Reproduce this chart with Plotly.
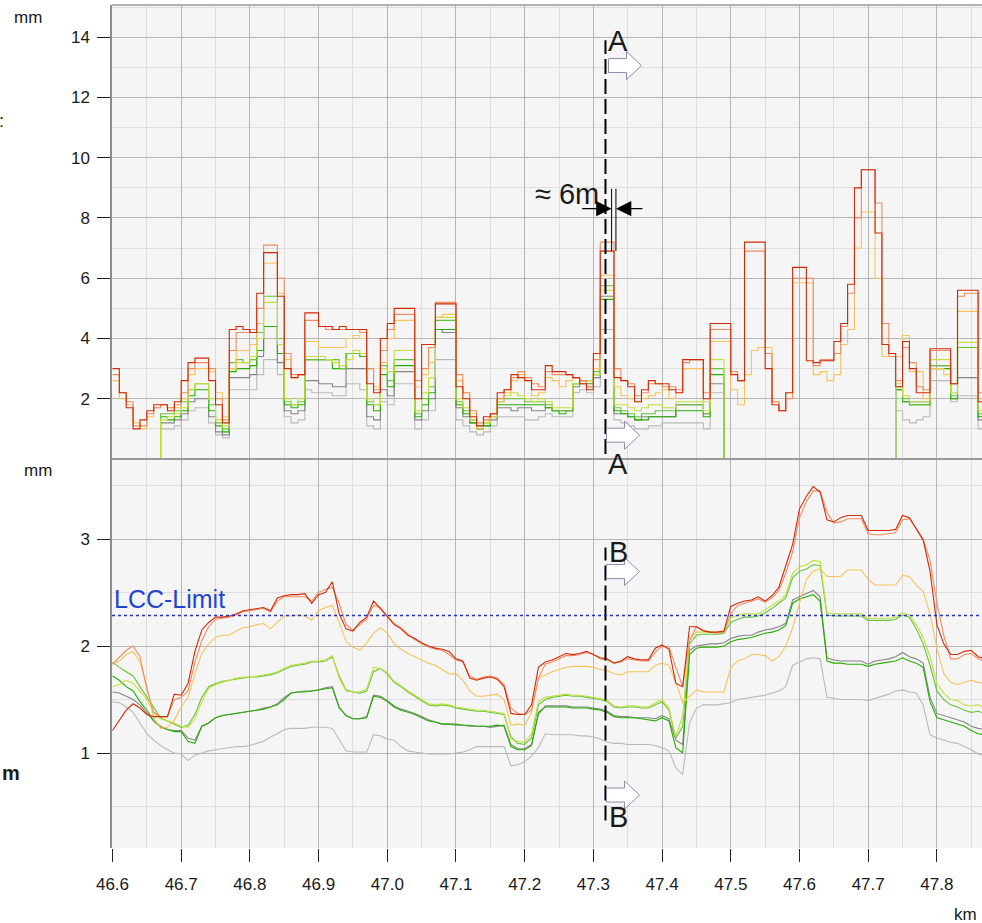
import plotly.graph_objects as go
from plotly.subplots import make_subplots

# ---------------- data ----------------
KM = [round(46.60 + 0.01 * i, 2) for i in range(128)]
X_TICKS = [46.6, 46.7, 46.8, 46.9, 47.0, 47.1, 47.2, 47.3, 47.4, 47.5, 47.6, 47.7, 47.8]
TOP_TICKS = [2, 4, 6, 8, 10, 12, 14]
BOT_TICKS = [1, 2, 3]
LCC_LIMIT = 2.285
SECTION_KM = 47.3176

TOP_RED = [3.0, 2.2, 1.7, 1.0, 1.3, 1.6, 1.8, 1.8, 1.6, 1.9,
           2.6, 3.2, 3.35, 3.35, 2.6, 1.8, 1.2, 4.3, 4.4, 4.3,
           4.2, 5.5, 6.85, 6.85, 5.4, 3.0, 2.7, 2.8, 4.85, 4.85,
           4.4, 4.4, 4.3, 4.4, 4.3, 4.3, 4.3, 2.5, 2.2, 4.0,
           4.5, 5.0, 5.0, 5.0, 2.0, 3.8, 3.8, 5.15, 5.15, 5.15,
           2.4, 2.0, 1.4, 1.1, 1.4, 1.5, 2.2, 2.3, 2.8, 2.7,
           2.6, 2.3, 2.3, 3.1, 2.9, 2.9, 2.8, 2.7, 2.5, 2.3,
           3.5, 6.9, 6.9, 2.7, 2.6, 2.4, 1.9, 2.3, 2.6, 2.5,
           2.5, 2.3, 2.2, 3.3, 3.3, 3.3, 2.0, 4.5, 4.5, 4.5,
           2.8, 2.6, 7.2, 7.2, 7.2, 3.0, 1.8, 1.6, 2.2, 6.36,
           6.36, 3.26, 3.2, 3.26, 3.26, 3.9, 4.5, 5.8, 9.0, 9.6,
           9.6, 7.5, 3.8, 3.5, 2.4, 3.9, 3.0, 2.2, 2.2, 3.66,
           3.66, 3.66, 2.5, 5.6, 5.6, 5.6, 1.9, 2.0]
TOP_SALMON = [2.8, 2.2, 1.9, 1.1, 1.1, 1.5, 1.7, 1.8, 1.7, 1.8,
              2.2, 3.0, 3.2, 3.2, 3.0, 2.0, 1.3, 3.6, 4.2, 4.2,
              4.3, 5.0, 7.1, 7.1, 6.0, 3.5, 2.8, 2.8, 4.6, 4.6,
              4.4, 4.3, 4.3, 4.3, 4.3, 4.3, 4.2, 3.0, 2.3, 3.6,
              4.3, 4.8, 4.8, 4.8, 2.6, 3.0, 3.7, 5.2, 5.2, 5.2,
              2.8, 2.2, 1.6, 1.2, 1.3, 1.5, 2.0, 2.3, 2.7, 2.9,
              2.7, 2.5, 2.4, 2.9, 2.8, 2.8, 2.8, 2.7, 2.6, 2.4,
              3.3, 7.2, 7.2, 3.0, 2.6, 2.5, 2.1, 2.2, 2.5, 2.5,
              2.4, 2.4, 2.3, 3.2, 3.3, 3.3, 2.2, 4.3, 4.3, 4.3,
              2.9, 2.6, 6.9, 6.9, 6.9, 3.5, 1.9, 1.6, 2.0, 6.0,
              6.0, 6.0, 3.1, 3.3, 3.3, 3.5, 4.4, 5.5, 8.0, 9.6,
              9.6, 8.5, 4.5, 3.4, 2.6, 3.7, 3.2, 2.4, 2.3, 3.6,
              3.6, 3.6, 2.5, 5.4, 5.5, 5.5, 2.2, 2.0]
TOP_ORANGE = [2.6, 2.0, 1.8, 1.2, 1.0, 1.4, 1.7, 1.8, 1.7, 1.7,
              2.0, 2.8, 3.0, 3.0, 2.9, 2.2, 1.4, 3.0, 3.6, 3.6,
              3.8, 4.5, 6.5, 6.5, 5.5, 3.3, 2.7, 2.8, 3.9, 3.9,
              3.7, 3.7, 3.7, 3.7, 4.0, 4.1, 4.0, 3.0, 2.4, 3.2,
              4.0, 4.6, 4.6, 4.6, 2.4, 2.8, 3.2, 4.7, 4.8, 4.8,
              2.6, 2.2, 1.5, 1.0, 1.3, 1.4, 1.9, 2.2, 2.6, 2.8,
              2.6, 2.1, 2.2, 2.7, 2.6, 2.4, 2.6, 2.7, 2.6, 2.4,
              3.0, 6.1, 6.1, 2.4, 2.1, 2.0, 1.9, 2.0, 2.1, 2.2,
              2.3, 2.0, 2.2, 3.0, 3.0, 3.0, 1.9, 3.9, 3.9, 3.9,
              2.3, 1.8, 2.8, 3.6, 3.7, 3.7, 1.9, 1.6, 2.2, 5.85,
              5.85, 5.85, 2.8, 2.9, 2.6, 2.8, 3.8, 4.3, 7.0, 8.2,
              8.2, 6.0, 3.4, 3.4, 3.4, 4.1, 2.9, 2.9, 2.0, 3.0,
              3.0, 2.8, 2.5, 4.9, 4.9, 4.9, 2.0, 2.0]
TOP_YGREEN = [0, 0, 0, 0, 0, 0, 0, 1.3, 1.4, 1.5,
              1.7, 2.3, 2.5, 2.5, 2.0, 1.3, 1.1, 3.0, 3.2, 3.2,
              3.4, 4.0, 5.2, 5.2, 3.8, 2.0, 1.8, 2.0, 3.4, 3.4,
              3.4, 3.3, 3.2, 3.1, 3.3, 3.6, 3.5, 2.0, 1.8, 3.0,
              2.9, 3.6, 3.6, 3.6, 1.6, 2.2, 2.7, 4.7, 4.7, 4.7,
              2.0, 1.7, 1.3, 1.1, 1.2, 1.5, 2.0, 2.1, 2.2, 2.1,
              2.0, 1.9, 2.0, 1.9, 1.7, 1.7, 1.7, 2.5, 2.6, 2.6,
              2.8, 5.6, 5.6, 1.8, 1.8, 1.7, 1.6, 1.7, 1.8, 1.8,
              1.7, 1.7, 1.9, 1.9, 1.9, 1.9, 1.6, 3.3, 3.3, 0,
              0, 0, 0, 0, 0, 0, 0, 0, 0, 0,
              0, 0, 0, 0, 0, 0, 0, 0, 0, 0,
              0, 0, 0, 0, 2.5, 2.1, 1.9, 1.9, 1.9, 3.3,
              3.3, 3.3, 2.2, 3.87, 3.87, 3.87, 1.6, 1.5]
TOP_LGREEN = [0, 0, 0, 0, 0, 0, 0, 1.5, 1.5, 1.6,
              1.9, 2.3, 2.5, 2.5, 1.8, 1.2, 1.0, 3.2, 3.3, 3.2,
              3.3, 4.2, 5.4, 5.4, 4.0, 1.9, 1.8, 1.9, 3.3, 3.3,
              3.3, 3.3, 3.3, 3.0, 3.5, 3.5, 3.5, 1.9, 1.8, 3.1,
              2.6, 3.3, 3.3, 3.3, 1.5, 2.0, 2.4, 4.6, 4.6, 4.6,
              1.9, 1.6, 1.3, 1.1, 1.2, 1.5, 1.9, 2.0, 2.0, 2.0,
              1.9, 1.9, 1.9, 1.8, 1.6, 1.6, 1.6, 2.5, 2.6, 2.6,
              2.9, 5.75, 5.75, 1.7, 1.6, 1.5, 1.4, 1.5, 1.5, 1.6,
              1.6, 1.6, 1.8, 1.8, 1.8, 1.8, 1.5, 3.0, 3.0, 0,
              0, 0, 0, 0, 0, 0, 0, 0, 0, 0,
              0, 0, 0, 0, 0, 0, 0, 0, 0, 0,
              0, 0, 0, 0, 2.4, 2.0, 1.8, 1.8, 1.8, 3.1,
              3.1, 3.1, 2.1, 3.7, 3.7, 3.7, 1.5, 1.4]
TOP_GREEN = [0, 0, 0, 0, 0, 0, 0, 1.4, 1.3, 1.4,
             1.6, 2.1, 2.3, 2.3, 1.6, 1.1, 0.9, 2.9, 3.0, 3.0,
             3.1, 3.6, 4.4, 4.4, 3.5, 1.8, 1.7, 1.8, 3.3, 3.3,
             3.3, 3.3, 3.0, 3.0, 3.5, 3.5, 3.4, 1.8, 1.6, 2.8,
             2.4, 3.1, 3.1, 3.1, 1.4, 1.8, 2.2, 4.3, 4.3, 4.3,
             1.8, 1.5, 1.2, 1.0, 1.1, 1.4, 1.8, 1.8, 1.8, 1.8,
             1.8, 1.8, 1.8, 1.7, 1.6, 1.5, 1.6, 2.5, 2.6, 2.5,
             2.8, 5.3, 5.3, 1.6, 1.5, 1.4, 1.3, 1.3, 1.4, 1.4,
             1.4, 1.4, 1.6, 1.6, 1.6, 1.6, 1.4, 2.8, 2.8, 0,
             0, 0, 0, 0, 0, 0, 0, 0, 0, 0,
             0, 0, 0, 0, 0, 0, 0, 0, 0, 0,
             0, 0, 0, 0, 2.3, 1.9, 1.8, 1.8, 1.8, 3.0,
             3.0, 3.0, 2.0, 3.7, 3.7, 3.7, 1.4, 1.3]
TOP_DGREY = [0, 0, 0, 0, 0, 0, 0, 1.2, 1.2, 1.3,
             1.5, 1.9, 2.0, 2.0, 1.4, 0.9, 0.8, 2.7, 2.7, 2.7,
             2.8, 3.4, 4.4, 4.4, 3.2, 1.6, 1.5, 1.6, 2.6, 2.6,
             2.5, 2.5, 2.4, 2.4, 3.0, 3.0, 3.0, 1.4, 1.3, 2.3,
             2.1, 2.9, 2.9, 2.9, 1.3, 1.6, 2.0, 4.3, 4.2, 4.2,
             1.7, 1.4, 1.2, 1.0, 1.1, 1.3, 1.7, 1.7, 1.6, 1.7,
             1.7, 1.6, 1.6, 1.7, 1.6, 1.6, 1.6, 2.4, 2.5, 2.4,
             2.7, 5.4, 5.4, 1.5, 1.5, 1.4, 1.3, 1.4, 1.4, 1.4,
             1.4, 1.4, 1.8, 1.8, 1.8, 1.8, 1.5, 2.5, 2.5, 0,
             0, 0, 0, 0, 0, 0, 0, 0, 0, 0,
             0, 0, 0, 0, 0, 0, 0, 0, 0, 0,
             0, 0, 0, 0, 2.3, 1.9, 1.9, 1.9, 1.9, 3.1,
             3.1, 3.1, 2.0, 2.7, 2.7, 2.7, 1.3, 1.2]
TOP_LGREY = [0, 0, 0, 0, 0, 0, 0, 1.0, 1.0, 1.1,
             1.3, 1.6, 1.7, 1.7, 1.2, 0.8, 0.7, 2.3, 2.3, 2.3,
             2.3, 2.8, 3.3, 3.3, 2.8, 1.4, 1.2, 1.3, 2.3, 2.2,
             2.2, 2.2, 2.1, 2.1, 2.5, 2.5, 2.3, 1.1, 1.0, 1.9,
             1.8, 2.5, 2.5, 2.5, 1.0, 1.3, 1.6, 3.3, 3.3, 3.3,
             1.3, 1.1, 0.9, 0.8, 0.9, 1.1, 1.4, 1.4, 1.4, 1.4,
             1.3, 1.3, 1.4, 1.5, 1.4, 1.4, 1.4, 2.2, 2.3, 2.2,
             2.4, 4.3, 4.3, 1.3, 1.2, 1.1, 1.0, 1.0, 1.1, 1.1,
             1.2, 1.2, 1.2, 1.2, 1.2, 1.2, 1.0, 2.2, 2.2, 0,
             0, 0, 0, 0, 0, 0, 0, 0, 0, 0,
             0, 0, 0, 0, 0, 0, 0, 0, 0, 0,
             0, 0, 0, 0, 1.6, 1.3, 1.2, 1.3, 1.4, 2.6,
             2.6, 2.6, 1.9, 2.1, 2.1, 2.1, 1.0, 0.9]

BOT_RED = [1.21, 1.30, 1.40, 1.46, 1.42, 1.36, 1.34, 1.34, 1.34, 1.55,
           1.54, 1.65, 1.95, 2.15, 2.22, 2.27, 2.27, 2.28, 2.30, 2.33,
           2.34, 2.35, 2.36, 2.33, 2.45, 2.47, 2.48, 2.48, 2.49, 2.40,
           2.48, 2.50, 2.60, 2.30, 2.16, 2.14, 2.22, 2.27, 2.42, 2.35,
           2.27, 2.20, 2.16, 2.10, 2.07, 2.03, 2.00, 1.98, 1.97, 1.95,
           1.88, 1.86, 1.70, 1.68, 1.70, 1.71, 1.69, 1.62, 1.37, 1.36,
           1.36, 1.45, 1.80, 1.85, 1.87, 1.90, 1.93, 1.92, 1.93, 1.95,
           1.92, 1.89, 1.88, 1.84, 1.86, 1.90, 1.88, 1.87, 1.87, 1.98,
           2.01, 1.97, 1.65, 1.62, 2.18, 2.18, 2.14, 2.13, 2.13, 2.14,
           2.37, 2.40, 2.42, 2.43, 2.46, 2.42, 2.47, 2.55, 2.75, 2.95,
           3.28, 3.40, 3.49, 3.44, 3.18, 3.16, 3.20, 3.22, 3.22, 3.22,
           3.08, 3.08, 3.08, 3.08, 3.09, 3.22, 3.20, 3.10, 2.99, 2.70,
           2.20, 2.02, 1.92, 1.92, 1.95, 1.96, 1.90, 1.88]
BOT_SALMON = [1.83, 1.90, 1.96, 2.00, 1.90, 1.60, 1.38, 1.34, 1.34, 1.50,
              1.52, 1.58, 1.85, 2.05, 2.18, 2.25, 2.26, 2.27, 2.29, 2.32,
              2.33, 2.34, 2.35, 2.32, 2.42, 2.46, 2.46, 2.46, 2.46, 2.42,
              2.50, 2.53, 2.55, 2.40, 2.20, 2.15, 2.20, 2.25, 2.38, 2.36,
              2.28, 2.21, 2.17, 2.11, 2.06, 2.02, 1.99, 1.97, 1.96, 1.92,
              1.87, 1.85, 1.72, 1.69, 1.71, 1.72, 1.70, 1.64, 1.42, 1.37,
              1.36, 1.40, 1.70, 1.83, 1.85, 1.88, 1.91, 1.91, 1.92, 1.94,
              1.92, 1.88, 1.87, 1.84, 1.85, 1.88, 1.87, 1.86, 1.86, 1.94,
              2.00, 1.99, 1.80, 1.62, 2.05, 2.18, 2.15, 2.13, 2.12, 2.13,
              2.30, 2.38, 2.40, 2.42, 2.44, 2.41, 2.45, 2.52, 2.68, 2.88,
              3.20, 3.35, 3.45, 3.45, 3.25, 3.15, 3.16, 3.19, 3.19, 3.19,
              3.05, 3.04, 3.04, 3.05, 3.06, 3.18, 3.19, 3.10, 3.00, 2.80,
              2.40, 2.10, 1.88, 1.88, 1.92, 1.93, 1.88, 1.86]
BOT_ORANGE = [1.83, 1.86, 1.92, 1.95, 1.85, 1.62, 1.33, 1.23, 1.24, 1.31,
              1.43, 1.52, 1.74, 1.93, 2.02, 2.08, 2.10, 2.10, 2.14, 2.17,
              2.18, 2.20, 2.21, 2.16, 2.22, 2.28, 2.28, 2.29, 2.28, 2.24,
              2.33, 2.36, 2.38, 2.22, 2.04, 1.99, 1.96, 2.03, 2.12, 2.17,
              2.12, 2.02, 1.97, 1.93, 1.90, 1.87, 1.84, 1.82, 1.78, 1.74,
              1.74, 1.68, 1.58, 1.53, 1.53, 1.54, 1.55, 1.50, 1.26, 1.27,
              1.26, 1.38, 1.70, 1.73, 1.76, 1.78, 1.80, 1.81, 1.81, 1.81,
              1.80, 1.78, 1.77, 1.74, 1.73, 1.76, 1.76, 1.76, 1.76, 1.82,
              1.84, 1.82, 1.66, 1.47, 1.53, 1.59, 1.57, 1.57, 1.57, 1.57,
              1.80, 1.86, 1.88, 1.92, 1.92, 1.91, 1.86, 1.90, 2.00, 2.17,
              2.40, 2.62, 2.70, 2.72, 2.65, 2.65, 2.65, 2.71, 2.71, 2.71,
              2.62, 2.57, 2.57, 2.57, 2.57, 2.66, 2.65, 2.57, 2.51, 2.30,
              1.98, 1.74, 1.66, 1.64, 1.66, 1.68, 1.66, 1.65]
BOT_YGREEN = [1.62, 1.64, 1.68, 1.65, 1.58, 1.50, 1.38, 1.32, 1.30, 1.28,
              1.25, 1.24, 1.32, 1.48, 1.60, 1.64, 1.66, 1.68, 1.70, 1.71,
              1.71, 1.72, 1.73, 1.74, 1.76, 1.79, 1.82, 1.83, 1.84, 1.86,
              1.86, 1.87, 1.91, 1.70, 1.58, 1.57, 1.57, 1.60, 1.80, 1.79,
              1.75, 1.67, 1.63, 1.58, 1.54, 1.50, 1.46, 1.45, 1.46, 1.45,
              1.43, 1.42, 1.41, 1.40, 1.40, 1.39, 1.38, 1.37, 1.13, 1.11,
              1.10, 1.18, 1.48, 1.52, 1.53, 1.54, 1.55, 1.54, 1.54, 1.53,
              1.52, 1.51, 1.49, 1.44, 1.43, 1.44, 1.44, 1.43, 1.43, 1.47,
              1.50, 1.42, 1.15, 1.35, 2.06, 2.13, 2.13, 2.13, 2.13, 2.14,
              2.26, 2.29, 2.30, 2.30, 2.30, 2.34, 2.38, 2.42, 2.48, 2.68,
              2.74, 2.76, 2.80, 2.79, 2.31, 2.30, 2.30, 2.30, 2.30, 2.30,
              2.26, 2.26, 2.26, 2.26, 2.27, 2.31, 2.29, 2.20, 2.08, 1.90,
              1.65, 1.56, 1.50, 1.49, 1.45, 1.44, 1.45, 1.42]
BOT_GREEN = [1.85, 1.80, 1.76, 1.72, 1.62, 1.52, 1.42, 1.33, 1.30, 1.27,
             1.24, 1.26, 1.36, 1.52, 1.62, 1.65, 1.67, 1.68, 1.69, 1.70,
             1.71, 1.71, 1.72, 1.73, 1.75, 1.78, 1.81, 1.82, 1.83, 1.85,
             1.85, 1.86, 1.90, 1.72, 1.59, 1.57, 1.56, 1.58, 1.76, 1.79,
             1.74, 1.66, 1.62, 1.57, 1.53, 1.49, 1.45, 1.44, 1.45, 1.44,
             1.42, 1.41, 1.40, 1.39, 1.39, 1.38, 1.37, 1.36, 1.15, 1.09,
             1.08, 1.14, 1.45, 1.50, 1.52, 1.53, 1.54, 1.53, 1.53, 1.52,
             1.51, 1.50, 1.48, 1.43, 1.42, 1.43, 1.43, 1.42, 1.42, 1.45,
             1.48, 1.40, 1.14, 1.25, 2.02, 2.10, 2.11, 2.11, 2.11, 2.12,
             2.22, 2.25, 2.27, 2.27, 2.28, 2.31, 2.35, 2.40, 2.45, 2.64,
             2.70, 2.72, 2.76, 2.75, 2.29, 2.28, 2.28, 2.28, 2.28, 2.28,
             2.24, 2.24, 2.24, 2.24, 2.25, 2.29, 2.27, 2.16, 2.02, 1.82,
             1.58, 1.50, 1.45, 1.43, 1.40, 1.38, 1.39, 1.37]
BOT_DKGREEN = [1.72, 1.68, 1.62, 1.58, 1.48, 1.40, 1.30, 1.24, 1.22, 1.20,
               1.20, 1.11, 1.09, 1.25, 1.28, 1.33, 1.35, 1.36, 1.37, 1.38,
               1.39, 1.40, 1.41, 1.43, 1.45, 1.50, 1.56, 1.57, 1.57, 1.58,
               1.59, 1.60, 1.61, 1.42, 1.35, 1.32, 1.32, 1.33, 1.53, 1.52,
               1.48, 1.43, 1.40, 1.38, 1.36, 1.33, 1.30, 1.29, 1.27, 1.27,
               1.27, 1.26, 1.26, 1.25, 1.25, 1.25, 1.26, 1.25, 1.06, 1.03,
               1.03, 1.07, 1.38, 1.43, 1.43, 1.43, 1.43, 1.42, 1.42, 1.42,
               1.41, 1.40, 1.38, 1.34, 1.33, 1.33, 1.33, 1.32, 1.31, 1.30,
               1.33, 1.30, 1.05, 1.00, 1.92, 1.98, 1.99, 1.99, 1.99, 2.00,
               2.04, 2.06, 2.07, 2.08, 2.10, 2.12, 2.13, 2.15, 2.19, 2.40,
               2.44, 2.46, 2.48, 2.42, 1.86, 1.84, 1.84, 1.83, 1.83, 1.83,
               1.81, 1.83, 1.84, 1.85, 1.86, 1.89, 1.86, 1.84, 1.80, 1.48,
               1.33, 1.31, 1.29, 1.27, 1.25, 1.21, 1.18, 1.17]
BOT_DGREY = [1.57, 1.56, 1.53, 1.50, 1.45, 1.38, 1.30, 1.25, 1.22, 1.21,
             1.21, 1.14, 1.12, 1.25, 1.28, 1.33, 1.35, 1.36, 1.37, 1.38,
             1.39, 1.40, 1.42, 1.43, 1.46, 1.52, 1.56, 1.57, 1.58, 1.58,
             1.59, 1.61, 1.62, 1.43, 1.35, 1.32, 1.32, 1.34, 1.54, 1.53,
             1.49, 1.44, 1.41, 1.39, 1.37, 1.34, 1.31, 1.29, 1.27, 1.27,
             1.26, 1.26, 1.25, 1.25, 1.25, 1.24, 1.25, 1.26, 1.08, 1.04,
             1.04, 1.08, 1.36, 1.44, 1.44, 1.44, 1.44, 1.43, 1.43, 1.43,
             1.42, 1.41, 1.39, 1.35, 1.34, 1.34, 1.33, 1.33, 1.33, 1.32,
             1.35, 1.32, 1.12, 1.08, 1.96, 2.00, 2.01, 2.02, 2.02, 2.03,
             2.07, 2.09, 2.10, 2.10, 2.13, 2.15, 2.16, 2.18, 2.21, 2.43,
             2.46, 2.49, 2.52, 2.46, 1.89, 1.87, 1.86, 1.86, 1.86, 1.86,
             1.83, 1.86, 1.87, 1.88, 1.90, 1.94, 1.90, 1.88, 1.84, 1.52,
             1.37, 1.35, 1.33, 1.31, 1.29, 1.25, 1.23, 1.22]
BOT_LGREY = [1.48, 1.47, 1.43, 1.38, 1.28, 1.18, 1.12, 1.07, 1.03, 1.00,
             0.99, 0.93, 0.98, 1.00, 1.02, 1.03, 1.04, 1.05, 1.06, 1.06,
             1.07, 1.09, 1.11, 1.15, 1.18, 1.22, 1.23, 1.23, 1.23, 1.24,
             1.24, 1.24, 1.23, 1.12, 1.02, 1.01, 1.01, 1.01, 1.17, 1.16,
             1.13, 1.12, 1.06, 1.02, 1.01, 1.00, 0.99, 0.99, 0.99, 0.99,
             1.00, 1.01, 1.03, 1.06, 1.06, 1.06, 1.06, 1.06, 0.88, 0.89,
             0.92, 0.97, 1.05, 1.18, 1.17, 1.17, 1.17, 1.17, 1.16, 1.16,
             1.15, 1.13, 1.10, 1.09, 1.09, 1.08, 1.08, 1.08, 1.08, 1.07,
             1.05, 1.02, 0.86, 0.80, 1.28, 1.42, 1.45, 1.45, 1.45, 1.46,
             1.47, 1.50, 1.51, 1.52, 1.53, 1.54, 1.56, 1.58, 1.62, 1.82,
             1.85, 1.88, 1.89, 1.88, 1.52, 1.51, 1.50, 1.50, 1.50, 1.50,
             1.49, 1.51, 1.53, 1.55, 1.58, 1.59, 1.57, 1.56, 1.45, 1.17,
             1.14, 1.12, 1.10, 1.09, 1.06, 1.03, 0.99, 0.97]

for _arr in (TOP_RED, TOP_SALMON, TOP_ORANGE, TOP_YGREEN, TOP_LGREEN, TOP_GREEN, TOP_DGREY, TOP_LGREY,
             BOT_RED, BOT_SALMON, BOT_ORANGE, BOT_YGREEN, BOT_GREEN, BOT_DKGREEN, BOT_DGREY, BOT_LGREY):
    assert len(_arr) == len(KM), len(_arr)

# ---------------- styles ----------------
C_RED, C_SALMON, C_ORANGE = '#d02a08', '#f08c60', '#f7c35a'
C_YGREEN, C_LGREEN, C_GREEN = '#c4e03a', '#66c43a', '#26ae00'
C_DGREY, C_LGREY = '#858585', '#bababa'
FONT = 'Liberation Sans, Arial, sans-serif'
LW = 1.1

W, H = 982, 923
ML, MR, MT, MB = 112, 0, 5, 75
PH = H - MT - MB
SPLIT = 389 / PH
X_RANGE = [46.5993, 46.6 + (W - ML - 0.5) / 687.0]

fig = make_subplots(rows=2, cols=1, shared_xaxes=True, vertical_spacing=0)

top_series = [(TOP_LGREY, C_LGREY), (TOP_DGREY, C_DGREY), (TOP_GREEN, C_GREEN),
              (TOP_LGREEN, C_LGREEN), (TOP_YGREEN, C_YGREEN), (TOP_ORANGE, C_ORANGE),
              (TOP_SALMON, C_SALMON), (TOP_RED, C_RED)]
for vals, col in top_series:
    fig.add_trace(go.Scatter(x=KM, y=vals, mode='lines', showlegend=False, hoverinfo='skip',
                             line=dict(color=col, width=LW, shape='hv')), row=1, col=1)

bot_series = [(BOT_LGREY, C_LGREY), (BOT_DGREY, C_DGREY), (BOT_DKGREEN, C_GREEN),
              (BOT_GREEN, C_LGREEN), (BOT_YGREEN, C_YGREEN), (BOT_ORANGE, C_ORANGE),
              (BOT_SALMON, C_SALMON), (BOT_RED, C_RED)]
for vals, col in bot_series:
    fig.add_trace(go.Scatter(x=KM, y=vals, mode='lines', showlegend=False, hoverinfo='skip',
                             line=dict(color=col, width=LW)), row=2, col=1)

GRID_MAJ, GRID_MIN = '#b6b6b6', '#dedede'
xcommon = dict(range=X_RANGE, tickvals=X_TICKS, showgrid=True, gridcolor=GRID_MAJ, gridwidth=1.3,
               zeroline=False, showline=False,
               minor=dict(dtick=0.05, tick0=46.6, showgrid=True, gridcolor=GRID_MIN, gridwidth=1))
fig.update_xaxes(**xcommon)
fig.update_xaxes(row=1, col=1, showticklabels=False, ticks='')
fig.update_xaxes(row=2, col=1, ticks='outside', ticklen=13, tickcolor='#222', tickwidth=1,
                 tickformat='.1f', ticklabelstandoff=8,
                 tickfont=dict(family=FONT, size=17, color='#1a1a1a'))

ycommon = dict(showgrid=True, gridcolor=GRID_MAJ, gridwidth=1.3, zeroline=False,
               showline=True, linecolor='#8c8c8c', linewidth=1.5,
               ticks='outside', ticklen=13, tickcolor='#222', tickwidth=1, ticklabelstandoff=4,
               tickfont=dict(family=FONT, size=17, color='#1a1a1a'))
fig.update_yaxes(row=1, col=1, domain=[SPLIT, 1], range=[0, 15.07], tickvals=TOP_TICKS,
                 minor=dict(tickvals=[1, 3, 5, 7, 9, 11, 13, 15], showgrid=True,
                            gridcolor=GRID_MIN, gridwidth=1, ticks=''), **ycommon)
fig.update_yaxes(row=2, col=1, domain=[0, SPLIT], range=[0.112, 3.748], tickvals=BOT_TICKS,
                 minor=dict(tickvals=[0.5, 1.5, 2.5, 3.5], showgrid=True,
                            gridcolor=GRID_MIN, gridwidth=1, ticks=''), **ycommon)

shapes = []
# frame lines
shapes.append(dict(type='line', xref='paper', yref='paper', x0=0, x1=1, y0=SPLIT, y1=SPLIT,
                   line=dict(color='#9a9a9a', width=2)))
shapes.append(dict(type='line', xref='paper', yref='paper', x0=0, x1=1, y0=1, y1=1,
                   line=dict(color='#9a9a9a', width=1.5)))
# section lines
shapes.append(dict(type='line', xref='x', yref='y', x0=SECTION_KM, x1=SECTION_KM, y0=0.17, y1=13.9,
                   line=dict(color='black', width=2, dash='15px,5px')))
shapes.append(dict(type='line', xref='x2', yref='y2', x0=SECTION_KM, x1=SECTION_KM, y0=0.37, y1=2.92,
                   line=dict(color='black', width=2, dash='15px,5px')))
# 6 m marker lines
for xk in (47.3265, 47.3328):
    shapes.append(dict(type='line', xref='x', yref='y', x0=xk, x1=xk, y0=6.9, y1=8.97,
                       line=dict(color='black', width=1)))
# LCC limit
shapes.append(dict(type='line', xref='paper', yref='y2', x0=0, x1=1, y0=LCC_LIMIT, y1=LCC_LIMIT,
                   line=dict(color='#2430c0', width=1.3, dash='dot')))

# block arrows (pixel sized, anchored to data)
ARROW_PATH = 'M0,7 L18,7 L18,14 L33,0 L18,-14 L18,-7 L0,-7 Z'
for xr, yr, xa, ya in [('x', 'y', 47.3220, 13.06), ('x', 'y', 47.3191, 0.79),
                       ('x2', 'y2', 47.3191, 2.696), ('x2', 'y2', 47.3191, 0.607)]:
    shapes.append(dict(type='path', xref=xr, yref=yr, xsizemode='pixel', ysizemode='pixel',
                       xanchor=xa, yanchor=ya, path=ARROW_PATH, fillcolor='white',
                       line=dict(color='#8c8cac', width=1)))
fig.update_layout(shapes=shapes)

ann = []
def txt(text, x, y, xref, yref, size, xanchor='center', yanchor='middle', color='#1a1a1a', **kw):
    ann.append(dict(text=text, x=x, y=y, xref=xref, yref=yref, showarrow=False,
                    xanchor=xanchor, yanchor=yanchor,
                    font=dict(family=FONT, size=size, color=color), **kw))

def px_x(p):
    return (p - ML) / (W - ML - MR)

def px_y(p):
    return (H - MB - p) / PH

txt('mm', px_x(27.5), px_y(18), 'paper', 'paper', 17)
txt(':', px_x(2), px_y(121), 'paper', 'paper', 18)
txt('mm', px_x(37.5), px_y(470), 'paper', 'paper', 17)
txt('<b>m</b>', px_x(0), px_y(773), 'paper', 'paper', 20, xanchor='left')
txt('km', px_x(965), px_y(914), 'paper', 'paper', 17)

txt('A', 47.3365, 13.86, 'x', 'y', 29)
txt('A', 47.3351, 3.70, 'x2', 'y2', 29)
txt('B', 47.3365, 2.878, 'x2', 'y2', 29)
txt('B', 47.3365, 0.402, 'x2', 'y2', 29)
txt('≈ 6m', 47.2623, 8.81, 'x', 'y', 29)
txt('LCC-Limit', 46.5995, LCC_LIMIT, 'x2', 'y2', 25, xanchor='left', yanchor='bottom',
    color='#1f45d0', yshift=1)

# width arrows for the 6 m marker
for xk, ax in ((47.3265, -31), (47.3328, 28)):
    ann.append(dict(x=xk, y=8.31, xref='x', yref='y', ax=ax, ay=0, text='', showarrow=True,
                    arrowhead=2, arrowsize=2.2, arrowwidth=1.4, arrowcolor='black', standoff=0))

fig.update_layout(annotations=ann, width=W, height=H,
                  margin=dict(l=ML, r=MR, t=MT, b=MB, pad=0),
                  paper_bgcolor='white', plot_bgcolor='#f5f5f5',
                  font=dict(family=FONT, size=17, color='#1a1a1a'),
                  showlegend=False)

fig.write_html('out.html', config={'displayModeBar': False},
               post_script="document.body.style.margin='0';document.body.style.overflow='hidden';")
